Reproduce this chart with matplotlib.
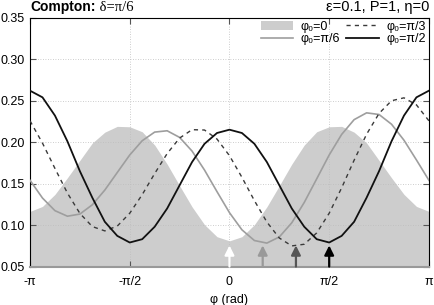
import numpy as np
import matplotlib
matplotlib.use("Agg")
import matplotlib.pyplot as plt

plt.rcParams["font.family"] = ["Liberation Sans", "DejaVu Sans"]

# azimuth samples, step pi/16
phi = np.arange(-16, 17) * np.pi / 16

# phi0 = 0 (filled), symmetric: values for phi = 0 .. pi
fill_half = [0.081, 0.086, 0.1005, 0.122, 0.1475, 0.1735, 0.1965, 0.2125, 0.2185,
             0.219, 0.212, 0.199, 0.178, 0.157, 0.137, 0.1225, 0.1165]
pdf_0 = fill_half[:0:-1] + fill_half

# phi0 = pi/6
pdf_pi6 = [0.154, 0.1326, 0.1174, 0.1107, 0.1133, 0.1245, 0.1422, 0.1634, 0.1845,
           0.2017, 0.2121, 0.2137, 0.2057, 0.1892, 0.1663, 0.1403, 0.115,
           0.0943, 0.0814, 0.0783, 0.0857, 0.1028, 0.1273, 0.1558, 0.1845,
           0.2093, 0.2271, 0.2353, 0.2333, 0.2216, 0.2023, 0.1785, 0.154]

# phi0 = pi/3
pdf_pi3 = [0.2257, 0.1988, 0.1683, 0.1386, 0.1141, 0.0982, 0.0930, 0.0988, 0.1143,
           0.1367, 0.1621, 0.1862, 0.2049, 0.2150, 0.2146, 0.2037, 0.1837,
           0.1576, 0.1295, 0.1037, 0.0844, 0.0749, 0.0769, 0.0906, 0.1143,
           0.1449, 0.1782, 0.2095, 0.2346, 0.2499, 0.2534, 0.2449, 0.2257]

# phi0 = pi/2, symmetric: values for phi = 0 .. pi
black_half = [0.215, 0.211, 0.198, 0.176, 0.148, 0.120, 0.098, 0.083, 0.079,
              0.087, 0.104, 0.133, 0.165, 0.201, 0.232, 0.254, 0.262]
pdf_pi2 = black_half[:0:-1] + black_half

arrow_pos = [0, np.pi / 6, np.pi / 3, np.pi / 2]
arrow_cols = ["white", "#999999", "#555555", "black"]

xticks = [-np.pi, -np.pi / 2, 0, np.pi / 2, np.pi]
xlabels = ["-π", "-π/2", "0", "π/2", "π"]
yticks = [0.05, 0.10, 0.15, 0.20, 0.25, 0.30, 0.35]

fig = plt.figure(figsize=(4.35, 3.05), dpi=100)
ax = fig.add_axes([0.069, 0.126, 0.917, 0.816])

ax.fill_between(phi, 0.05, pdf_0, color="#cdcdcd", lw=0, zorder=1, label="φ₀=0")
ax.plot(phi, pdf_pi6, color="#9e9e9e", lw=1.2, zorder=3, label="φ₀=π/6")
ax.plot(phi, pdf_pi3, color="#3a3a3a", lw=1.0, ls=(0, (3, 3)), zorder=3, label="φ₀=π/3")
ax.plot(phi, pdf_pi2, color="#111111", lw=1.3, zorder=3, label="φ₀=π/2")

for x, c in zip(arrow_pos, arrow_cols):
    ax.annotate("", xy=(x, 0.0755), xytext=(x, 0.05),
                arrowprops=dict(arrowstyle="-|>", color=c, lw=1.6,
                                mutation_scale=14, shrinkA=0, shrinkB=0),
                zorder=4)

ax.set_xlim(-np.pi, np.pi)
ax.set_ylim(0.05, 0.35)
ax.set_xticks(xticks)
ax.set_xticklabels(xlabels)
ax.set_yticks(yticks)
ax.set_yticklabels(["%.2f" % v for v in yticks])
ax.tick_params(direction="in", length=4, top=True, right=True, labelsize=9,
               color="#555555")
ax.tick_params(axis="y", pad=4)
ax.tick_params(axis="x", pad=7)
ax.grid(color="#bdbdbd", ls=(0, (1, 2)), lw=0.6, zorder=2)
ax.set_xlabel("φ (rad)", fontsize=9, labelpad=4)
ax.spines["bottom"].set_color("#999999")
ax.spines["bottom"].set_linewidth(1.5)

t = ax.text(0, 1.015, "Compton:", transform=ax.transAxes, fontsize=10,
            weight="bold", ha="left", va="bottom")
ax.annotate(" δ=π/6", xy=(1, 0), xycoords=t, fontsize=10.5, va="bottom",
            family=["Liberation Serif", "DejaVu Serif"])
ax.text(1, 1.015, "ε=0.1, P=1, η=0", transform=ax.transAxes, fontsize=10.5,
        ha="right", va="bottom")

ax.legend(ncol=2, loc="upper right", frameon=False, fontsize=9,
          handlelength=2.6, columnspacing=0.5, handletextpad=0.6,
          labelspacing=0.05, borderaxespad=0.15, borderpad=0.1)

fig.savefig("out.png", dpi=100)
